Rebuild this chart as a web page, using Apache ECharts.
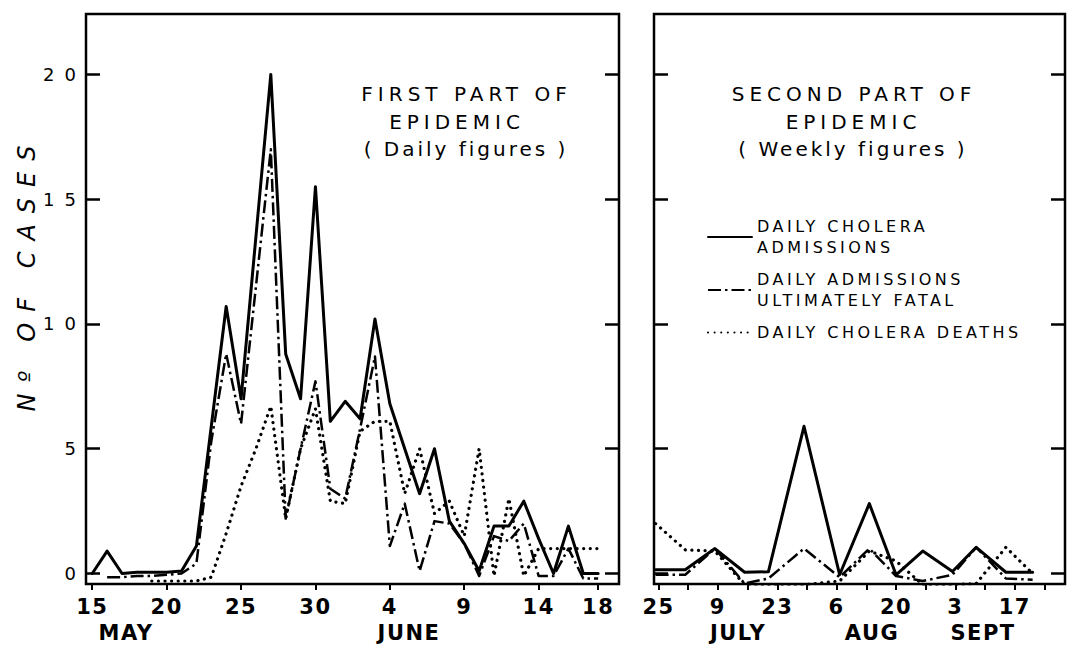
<!DOCTYPE html>
<html>
<head>
<meta charset="utf-8">
<script src="https://cdn.jsdelivr.net/npm/echarts@6/dist/echarts.min.js"></script>
<style>
html,body{margin:0;padding:0;background:#fff;}
#c{width:1068px;height:647px;}
#c text[style*="lsT"], #c text[font-family*="lsT"]{letter-spacing:5px;}
#c text[style*="lsU"], #c text[font-family*="lsU"]{letter-spacing:3px;}
#c text[style*="lsL"], #c text[font-family*="lsL"]{letter-spacing:3.5px;}
#c text[style*="lsY"], #c text[font-family*="lsY"]{letter-spacing:10px;}
#c text[style*="lsN"], #c text[font-family*="lsN"]{letter-spacing:11px;}
#c text[style*="lsX"], #c text[font-family*="lsX"]{letter-spacing:1.5px;}
</style>
</head>
<body>
<div id="c"></div>
<script>
// ---- First part: daily figures, day index counted from 15 May ----
const dailyDays = [0,1,2,3,4,5,6,7,8,9,10,11,12,13,14,15,16,17,18,19,20,21,22,23,24,25,26,27,28,29,30,31,32,33,34];
const dailyAdmissions = [0,0.9,0,0.05,0.05,0.05,0.1,1.1,5.9,10.7,7.0,13.5,20,8.8,7.0,15.5,6.1,
  6.9,6.2,10.2,6.8,5.0,3.2,5.0,2.1,1.2,0.1,1.9,1.9,2.9,1.4,0,1.9,0,0];
const dailyFatal = [null,-0.15,-0.15,-0.1,-0.1,-0.05,0.0,0.4,5.3,8.8,6.0,11.5,17.0,2.2,5.0,7.7,3.4,
  3.0,5.8,8.7,1.1,2.8,0.1,2.1,2.0,1.2,-0.1,1.5,1.3,2.0,-0.1,-0.1,1.0,-0.2,-0.2];
const dailyDeaths = [null,null,null,null,-0.3,-0.3,-0.3,-0.3,-0.15,1.6,3.5,5.0,6.7,2.2,5.0,6.6,2.9,
  2.8,5.7,6.1,6.1,3.2,5.0,2.4,2.9,1.5,5.0,-0.1,3.0,-0.1,1.0,1.0,1.0,1.0,1.0];
const dailyTickDays = [0,5,10,15,20,25,30,34];
const dailyTickLabels = ['15','20','25','30','4','9','14','18'];

// ---- Second part: weekly figures, week index counted from 25 June ----
const weeklyWeeks = [-0.1,0.9,1.9,2.9,3.7,4.9,6.1,7.1,8.0,8.9,9.9,10.7,11.7,12.6];
const weeklyAdmissions = [0.15,0.15,1.0,0.05,0.07,5.9,-0.05,2.8,-0.05,0.9,0.08,1.05,0.05,0.05];
const weeklyFatal = [-0.05,-0.05,1.0,-0.4,-0.2,1.0,-0.15,1.0,-0.1,-0.3,-0.05,1.05,-0.2,-0.25];
const weeklyDeaths = [2.0,0.95,0.9,-0.45,-0.45,-0.45,-0.3,0.9,0.5,-0.45,-0.45,-0.4,1.05,0.0];
const weeklyTickWeeks = [0,1,2,3,4,5,6,7,8,9,10,11,12,13];
const weeklyLabelWeeks = [0,2,4,6,8,10,12];
const weeklyLabels = ['25','9','23','6','20','3','17'];

const yTicks = [0,5,10,15,20];
const seriesNames = ['DAILY CHOLERA ADMISSIONS','DAILY ADMISSIONS ULTIMATELY FATAL','DAILY CHOLERA DEATHS'];
const legendLabels = ['DAILY CHOLERA\nADMISSIONS','DAILY ADMISSIONS\nULTIMATELY FATAL','DAILY CHOLERA DEATHS'];

const pairs = (xs, ys) => xs.map((x, i) => [x, ys[i]]);

const styles = [
  {color:'#000', width:3, type:'solid', cap:'round', join:'round'},
  {color:'#000', width:2.5, type:[13,4,2.5,4], cap:'butt', join:'round'},
  {color:'#000', width:3.2, type:[0.1,6.5], cap:'round', join:'round'}
];

const chart = echarts.init(document.getElementById('c'), null, {renderer:'svg'});

function xAxisBase(gi, min, max, tickVals, labelVals, labelTexts) {
  return {
    type:'value', gridIndex:gi, min:min, max:max,
    axisLine:{show:false, onZero:false},
    splitLine:{show:false},
    axisTick:{show:true, customValues:tickVals, length:6, lineStyle:{color:'#000', width:2}},
    axisLabel:{customValues:labelVals, formatter:(v)=>labelTexts[labelVals.indexOf(v)],
      margin:12, color:'#000', fontSize:21, fontWeight:'bold', fontFamily:'DejaVu Sans, lsX'}
  };
}
function yAxisBase(gi, pos, showLabels) {
  return {
    type:'value', gridIndex:gi, position:pos, min:-0.42, max:22.42,
    axisLine:{show:false, onZero:false},
    splitLine:{show:false},
    axisTick:{show:true, inside:true, length:14, customValues:yTicks, lineStyle:{color:'#000', width:2.5}},
    axisLabel:{show:showLabels, customValues:yTicks, margin:0, color:'#000', fontSize:18, fontFamily:'DejaVu Sans, lsY'}
  };
}

const series = [];
const dailySets = [dailyAdmissions, dailyFatal, dailyDeaths];
const weeklySets = [weeklyAdmissions, weeklyFatal, weeklyDeaths];
for (let k = 0; k < 3; k++) {
  series.push({name:seriesNames[k], type:'line', xAxisIndex:0, yAxisIndex:0, symbol:'none',
    data:pairs(dailyDays, dailySets[k]), lineStyle:styles[k], itemStyle:{color:'#000'}, z:5-k, connectNulls:false});
  series.push({name:seriesNames[k], type:'line', xAxisIndex:1, yAxisIndex:2, symbol:'none',
    data:pairs(weeklyWeeks, weeklySets[k]), lineStyle:styles[k], itemStyle:{color:'#000'}, z:5-k});
}

const option = {
  animation:false,
  backgroundColor:'#fff',
  grid:[
    {left:86, top:14, width:533, height:570, show:true, borderColor:'#000', borderWidth:2.5, containLabel:false},
    {left:654, top:14, width:411, height:570, show:true, borderColor:'#000', borderWidth:2.5, containLabel:false}
  ],
  xAxis:[
    xAxisBase(0, -0.42, 35.4, dailyTickDays, dailyTickDays, dailyTickLabels),
    xAxisBase(1, -0.152, 13.69, weeklyTickWeeks, weeklyLabelWeeks, weeklyLabels)
  ],
  yAxis:[
    yAxisBase(0, 'left', true),
    yAxisBase(0, 'right', false),
    yAxisBase(1, 'left', false),
    yAxisBase(1, 'right', false)
  ],
  legend:{
    data:seriesNames, orient:'vertical', left:702, top:211, itemWidth:44, itemHeight:14, itemGap:11,
    itemStyle:{opacity:0},
    formatter:(n)=>legendLabels[seriesNames.indexOf(n)],
    textStyle:{color:'#000', fontSize:16, lineHeight:21, fontFamily:'DejaVu Sans, lsL'},
    selectedMode:false
  },
  graphic:[
    {type:'text', x:466.5, y:94, style:{text:'FIRST PART OF', fill:'#000', font:'20px DejaVu Sans, lsT', textAlign:'center', textVerticalAlign:'middle'}},
    {type:'text', x:457, y:122, style:{text:'EPIDEMIC', fill:'#000', font:'20px DejaVu Sans, lsT', textAlign:'center', textVerticalAlign:'middle'}},
    {type:'text', x:466, y:149, style:{text:'( Daily figures )', fill:'#000', font:'20px DejaVu Sans, lsU', textAlign:'center', textVerticalAlign:'middle'}},
    {type:'text', x:854, y:94, style:{text:'SECOND PART OF', fill:'#000', font:'20px DejaVu Sans, lsT', textAlign:'center', textVerticalAlign:'middle'}},
    {type:'text', x:853.5, y:122, style:{text:'EPIDEMIC', fill:'#000', font:'20px DejaVu Sans, lsT', textAlign:'center', textVerticalAlign:'middle'}},
    {type:'text', x:853, y:149, style:{text:'( Weekly figures )', fill:'#000', font:'20px DejaVu Sans, lsU', textAlign:'center', textVerticalAlign:'middle'}},
    {type:'text', x:27, y:273, rotation:Math.PI/2, style:{text:'Nº OF CASES', fill:'#000', font:'italic 24px DejaVu Sans, lsN', textAlign:'center', textVerticalAlign:'middle'}},
    {type:'text', x:126, y:633, style:{text:'MAY', fill:'#000', font:'bold 21px DejaVu Sans, lsX', textAlign:'center', textVerticalAlign:'middle'}},
    {type:'text', x:409, y:633, style:{text:'JUNE', fill:'#000', font:'bold 21px DejaVu Sans, lsX', textAlign:'center', textVerticalAlign:'middle'}},
    {type:'text', x:738, y:633, style:{text:'JULY', fill:'#000', font:'bold 21px DejaVu Sans, lsX', textAlign:'center', textVerticalAlign:'middle'}},
    {type:'text', x:872, y:633, style:{text:'AUG', fill:'#000', font:'bold 21px DejaVu Sans, lsX', textAlign:'center', textVerticalAlign:'middle'}},
    {type:'text', x:983, y:633, style:{text:'SEPT', fill:'#000', font:'bold 21px DejaVu Sans, lsX', textAlign:'center', textVerticalAlign:'middle'}}
  ],
  series:series
};
chart.setOption(option);
</script>
</body>
</html>
